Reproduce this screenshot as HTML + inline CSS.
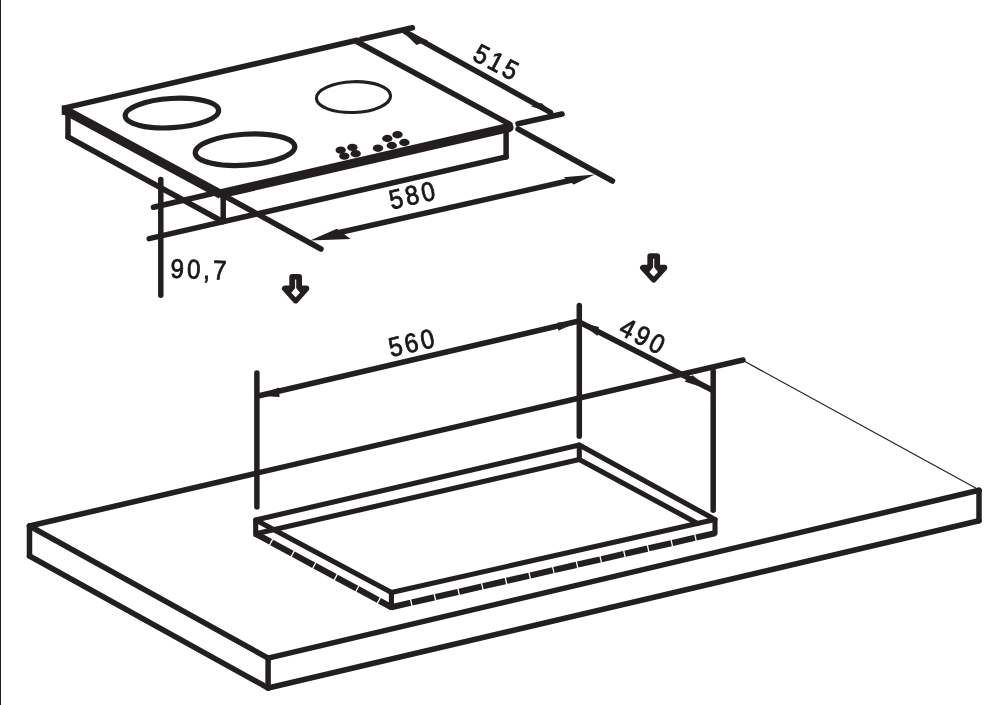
<!DOCTYPE html>
<html lang="en">
<head>
<meta charset="utf-8">
<title>Hob installation dimensions</title>
<style>
  html, body { margin: 0; padding: 0; background: #ffffff; }
  body { width: 1000px; height: 705px; overflow: hidden; position: relative; }
  svg { display: block; position: absolute; left: 0; top: 0; }
  .ln { stroke: #231f20; fill: none; stroke-linecap: round; stroke-linejoin: round; }
  .w4 { stroke-width: 5.5; }
  .w5 { stroke-width: 5.1; }
  .bt { stroke-linecap: butt; }
  .fl { fill: #231f20; stroke: none; }
  text { font-family: "Liberation Sans", "DejaVu Sans", sans-serif; font-size: 27px; fill: #1a1718; stroke: #1a1718; stroke-width: 0.8px; letter-spacing: 3.2px; text-anchor: middle; filter: grayscale(1); }
</style>
</head>
<body>
<svg width="1000" height="705" viewBox="0 0 1000 705">
  <rect x="0" y="0" width="1000" height="705" fill="#ffffff"/>
  <!-- left page border -->
  <rect x="0" y="0" width="1" height="705" fill="#1e1e1e"/>

  <!-- ================= HOB ================= -->
  <g id="hob">
    <!-- top surface edges -->
    <line class="ln w4" x1="66" y1="107.6" x2="357" y2="40.2"/>
    <line class="ln w4" x1="357.5" y1="42" x2="510" y2="124.3"/>
    <line class="ln bt" stroke-width="9" x1="66" y1="110.7" x2="221" y2="194.5"/>
    <line class="ln" stroke-width="9.2" x1="222" y1="193.5" x2="509" y2="127.6"/>
    <rect class="fl" x="61.7" y="105.3" width="8.5" height="9.7" rx="1"/>
    <!-- side faces -->
    <line class="ln w4" x1="68" y1="112" x2="68" y2="137"/>
    <line class="ln w4" x1="68" y1="137" x2="222.5" y2="221.5"/>
    <line class="ln w4" x1="223.2" y1="197" x2="223.2" y2="221.5"/>
    <line class="ln w4" x1="506.1" y1="128" x2="506.1" y2="156.9"/>
    <line class="ln w4" x1="149.2" y1="238.6" x2="506.1" y2="156.9"/>
    <!-- burners -->
    <ellipse class="ln" stroke-width="5.2" cx="0" cy="0" rx="46.8" ry="14.6" transform="translate(171.9,113.1) rotate(-3.5)"/>
    <ellipse class="ln" stroke-width="5.2" cx="0" cy="0" rx="49.9" ry="15.5" transform="translate(245,149.7) rotate(-3.8)"/>
    <ellipse class="ln" stroke-width="3.1" cx="0" cy="0" rx="37.1" ry="15.4" transform="translate(353.5,97.1) rotate(-2)"/>
    <!-- touch controls -->
    <g class="fl">
      <ellipse cx="340.7" cy="150.1" rx="5.2" ry="3.7"/>
      <ellipse cx="344.3" cy="156.1" rx="5.2" ry="3.7"/>
      <ellipse cx="352.4" cy="147.4" rx="5.2" ry="3.7"/>
      <ellipse cx="355.7" cy="153.7" rx="5.2" ry="3.7"/>
      <ellipse cx="378" cy="148.2" rx="5.2" ry="3.7"/>
      <ellipse cx="387.3" cy="138.5" rx="5.2" ry="3.7"/>
      <ellipse cx="397.5" cy="134.7" rx="5.2" ry="3.7"/>
      <ellipse cx="391.8" cy="145.5" rx="5.2" ry="3.7"/>
      <ellipse cx="404.4" cy="142.5" rx="5.2" ry="3.7"/>
    </g>
  </g>

  <!-- ================= HOB DIMENSIONS ================= -->
  <g id="hob-dims">
    <!-- 515 -->
    <line class="ln w4" x1="361.5" y1="39.2" x2="412.4" y2="27.8"/>
    <line class="ln w4" x1="518" y1="123.7" x2="562" y2="114"/>
    <line class="ln w4" x1="405" y1="31.6" x2="550.5" y2="112.4"/>
    <polygon class="fl" points="401,30 428,40.6 416.5,45"/>
    <polygon class="fl" points="553.8,113.8 541.4,103 530.8,106.3"/>
    <text x="0" y="0" transform="translate(496.2,61.6) rotate(27.4) scale(0.9,1)" dx="1.6" dy="9.7">515</text>
    <!-- 580 -->
    <line class="ln w4" x1="221" y1="194" x2="321" y2="249"/>
    <line class="ln w4" x1="518" y1="129" x2="612.5" y2="181"/>
    <line class="ln w4 bt" x1="335" y1="233.5" x2="572" y2="180.0"/>
    <polygon class="fl" points="310,240.5 337,228.8 350.6,238.9"/>
    <polygon class="fl" points="594.8,174.6 563.6,177.2 573.8,184.6"/>
    <text x="0" y="0" transform="translate(411.9,194.9) rotate(-12.8) scale(0.9,1)" dx="1.6" dy="9.7">580</text>
    <!-- 90,7 -->
    <line class="ln w4" x1="153.5" y1="207.3" x2="218" y2="192.3"/>
    <line class="ln w4" x1="160.8" y1="179.6" x2="160.8" y2="295.2"/>
    <text x="0" y="0" transform="translate(198.6,269) rotate(1.8) scale(0.9,1)" dx="1.6" dy="9.7">90,7</text>
  </g>

  <!-- ================= DOWN ARROWS ================= -->
  <g id="down-arrows">
    <polygon points="292.30,277.00 299.00,277.00 299.00,288.50 306.30,288.50 295.65,300.40 285.00,288.50 292.30,288.50" fill="#231f20" stroke="#231f20" stroke-width="6" stroke-linejoin="round"/>
    <polygon points="295.65,287.60 300.00,292.80 295.65,297.30 291.30,292.80" fill="#ffffff"/>
    <rect x="295.10" y="279.50" width="1.1" height="9.5" fill="#ffffff"/>
    <polygon points="650.35,256.20 657.05,256.20 657.05,267.70 664.35,267.70 653.70,279.60 643.05,267.70 650.35,267.70" fill="#231f20" stroke="#231f20" stroke-width="6" stroke-linejoin="round"/>
    <polygon points="653.70,266.80 658.05,272.00 653.70,276.50 649.35,272.00" fill="#ffffff"/>
    <rect x="653.15" y="258.70" width="1.1" height="9.5" fill="#ffffff"/>
  </g>

  <!-- ================= WORKTOP ================= -->
  <g id="worktop">
    <line class="ln w4" x1="29.5" y1="526" x2="743" y2="360"/>
    <line class="ln w4" x1="29.5" y1="526" x2="29.5" y2="556"/>
    <line class="ln w4" x1="29.5" y1="526" x2="268.1" y2="658.1"/>
    <line class="ln w4" x1="29.5" y1="556" x2="268.1" y2="688"/>
    <line class="ln w4" x1="268.1" y1="658.1" x2="268.1" y2="688"/>
    <line class="ln w4" x1="268.1" y1="658.1" x2="979" y2="490.3"/>
    <line class="ln w4" x1="268.1" y1="688" x2="979" y2="520.8"/>
    <line class="ln w4" x1="979" y1="490.3" x2="979" y2="520.8"/>
    <line class="ln" stroke-width="1.2" x1="744.5" y1="361.3" x2="977.5" y2="489"/>
  </g>

  <!-- ================= CUT-OUT ================= -->
  <g id="cutout">
    <path class="ln w5" d="M255.7,520 L579.3,445 L715,519.5 L391.5,592.5 Z"/>
    <line class="ln w5" x1="255.7" y1="520" x2="255.7" y2="534.4"/>
    <line class="ln w5" x1="579.3" y1="445" x2="579.3" y2="459.5"/>
    <line class="ln w5" x1="715" y1="519.5" x2="715" y2="533.2"/>
    <line class="ln w5" x1="391.4" y1="592.3" x2="391.4" y2="607.4"/>
    <line class="ln w5" x1="257" y1="533.5" x2="579.3" y2="459.5"/>
    <line class="ln w5" x1="579.3" y1="459.5" x2="697.6" y2="523.4"/>
    <line class="ln bt" stroke-width="6.2" stroke-dasharray="23.2 1.3" stroke-dashoffset="6.3" x1="255.7" y1="533.8" x2="391.4" y2="607.2"/>
    <line class="ln bt" stroke-width="6.2" stroke-dasharray="23 1.3" stroke-dashoffset="3.3" x1="391.4" y1="607.2" x2="715" y2="533.2"/>
  </g>

  <!-- ================= CUT-OUT DIMENSIONS ================= -->
  <g id="cutout-dims">
    <line class="ln w4" x1="256.9" y1="373" x2="256.9" y2="506.9"/>
    <line class="ln w4" x1="579.3" y1="305.5" x2="579.3" y2="436.3"/>
    <line class="ln w4" x1="713.2" y1="371" x2="713.2" y2="510.2"/>
    <line class="ln w4" x1="258" y1="396" x2="579" y2="321"/>
    <line class="ln w4" x1="579.3" y1="322" x2="712.5" y2="390.3"/>
    <polygon class="fl" points="258,395.8 279,387.6 279.5,397"/>
    <polygon class="fl" points="579,321.5 557.6,322.6 558.3,330.7"/>
    <polygon class="fl" points="579.5,322 598.9,327.1 597.5,336"/>
    <polygon class="fl" points="712,390.5 692.5,375.3 684.4,381.4"/>
    <text x="0" y="0" transform="translate(411.3,342.5) rotate(-12.8) scale(0.9,1)" dx="1.6" dy="9.7">560</text>
    <text x="0" y="0" transform="translate(642.6,335.6) rotate(27.4) scale(0.9,1)" dx="1.6" dy="9.7">490</text>
  </g>
</svg>
</body>
</html>
